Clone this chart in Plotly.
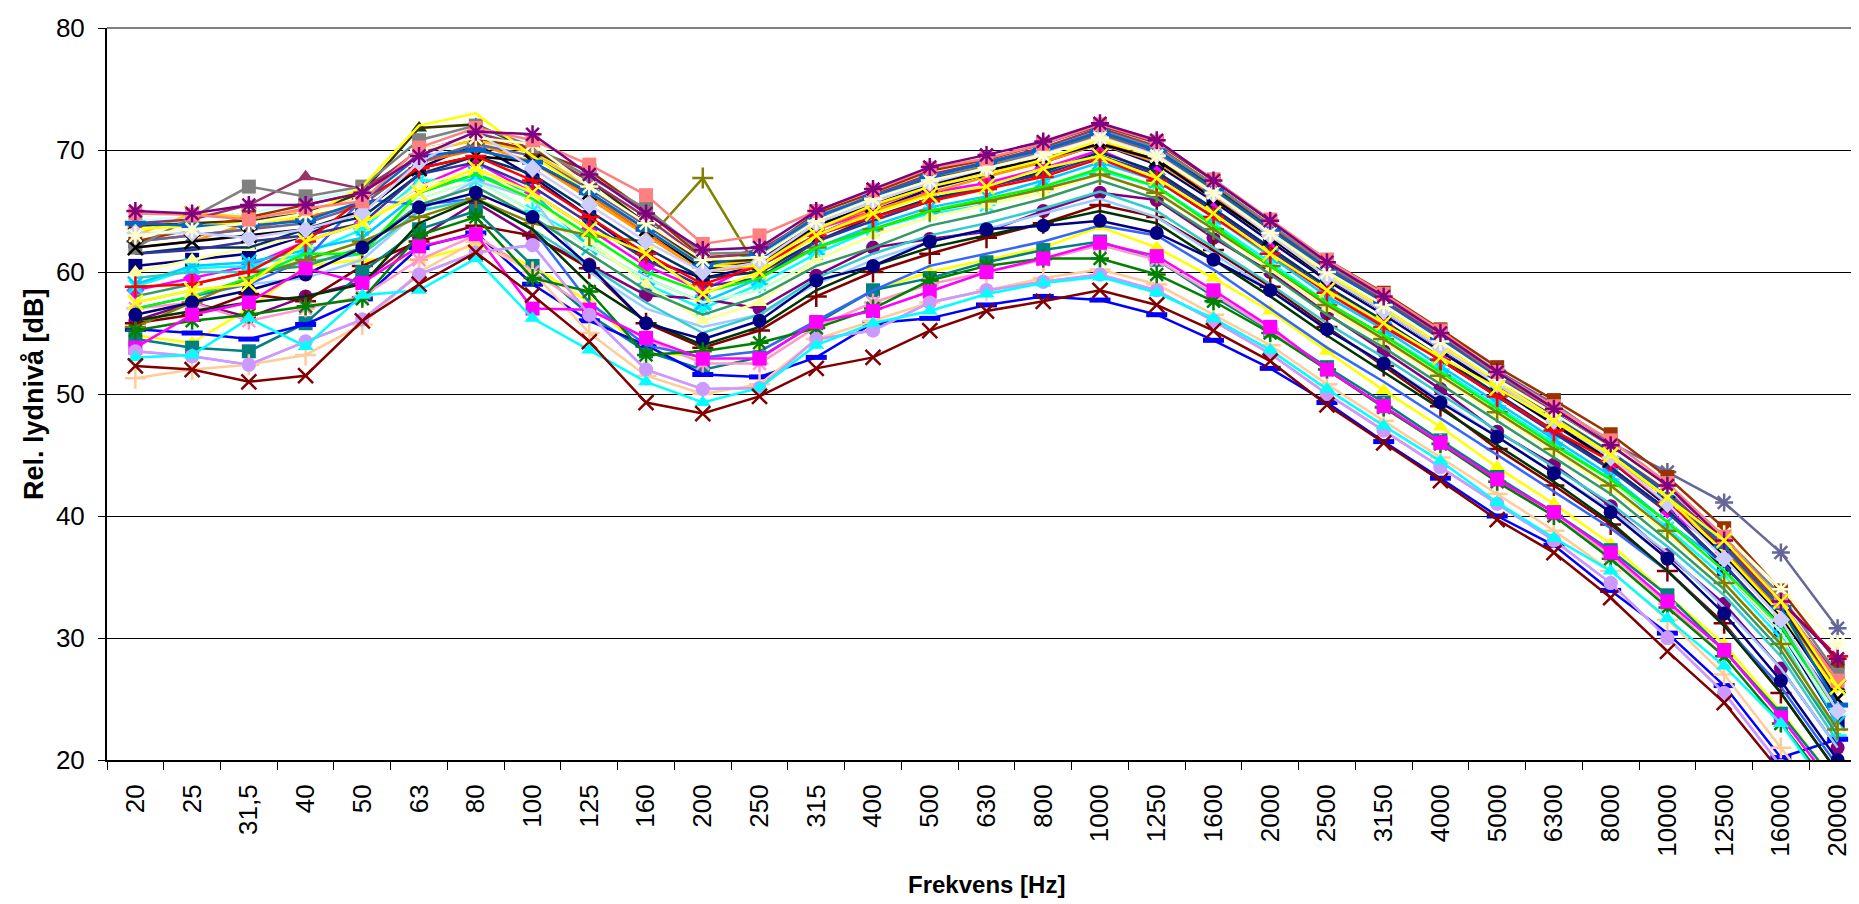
import plotly.graph_objects as go

# ---------------- data ----------------
frequencies = ["20", "25", "31,5", "40", "50", "63", "80", "100", "125", "160", "200", "250",
               "315", "400", "500", "630", "800", "1000", "1250", "1600", "2000", "2500",
               "3150", "4000", "5000", "6300", "8000", "10000", "12500", "16000", "20000"]

# top group
brown_sq = [62.5, 63.5, 64.5, 65.5, 66.5, 70.0, 71.0, 70.0, 68.3, 65.0, 61.2, 61.5, 64.8, 66.5, 68.3, 69.2, 70.5, 72.0, 70.6, 67.5, 64.2, 61.0, 58.3, 55.3, 52.2, 49.5, 46.7, 43.2, 39.0, 33.9, 28.0]
salmon_sq = [64.8, 64.7, 64.3, 65.2, 65.8, 70.2, 71.8, 70.8, 68.8, 66.3, 62.3, 63.0, 65.0, 66.7, 68.5, 69.3, 70.5, 72.1, 70.7, 67.6, 64.3, 61.0, 58.2, 55.2, 51.8, 49.0, 46.2, 42.7, 38.3, 33.0, 26.5]
plum_tri = [64.0, 64.3, 65.5, 67.8, 66.8, 69.7, 71.4, 70.2, 67.5, 64.5, 61.0, 61.8, 64.5, 66.3, 68.0, 69.0, 70.2, 71.8, 70.3, 67.2, 63.8, 60.5, 57.7, 54.7, 51.5, 48.5, 45.5, 42.0, 37.8, 32.8, 26.8]
gray_sq = [62.0, 64.5, 67.0, 66.2, 67.0, 70.8, 72.0, 70.3, 67.8, 65.2, 61.5, 61.6, 64.6, 66.2, 67.8, 68.7, 70.0, 71.6, 70.2, 67.2, 63.9, 60.6, 57.9, 54.9, 51.6, 48.8, 45.7, 42.3, 38.2, 33.5, 27.0]
purple_star = [65.0, 64.8, 65.5, 65.5, 66.5, 69.5, 71.5, 71.3, 68.0, 64.8, 61.8, 62.0, 65.0, 66.8, 68.6, 69.6, 70.7, 72.2, 70.8, 67.5, 64.2, 60.8, 58.0, 55.0, 51.8, 48.8, 45.8, 42.5, 38.0, 33.0, 28.3]
olive_dark_tri = [63.8, 64.0, 64.2, 64.8, 66.5, 71.8, 72.1, 70.0, 67.5, 64.0, 60.8, 61.0, 64.0, 66.0, 67.7, 68.8, 70.0, 71.5, 70.0, 67.0, 63.7, 60.3, 57.5, 54.5, 51.3, 48.3, 45.3, 41.8, 37.5, 32.5, 26.0]
yellow_top = [63.5, 63.8, 64.0, 64.5, 67.0, 72.0, 73.0, 69.5, 66.5, 63.5, 60.5, 60.5, 63.5, 65.5, 67.0, 68.0, 69.2, 70.8, 69.5, 66.5, 63.0, 59.8, 57.0, 54.0, 51.0, 48.0, 45.0, 41.5, 37.0, 32.0, 25.5]
turq_sq = [64.2, 64.5, 64.8, 65.8, 66.8, 71.0, 71.5, 70.5, 67.8, 65.0, 61.5, 62.0, 64.8, 66.6, 68.4, 69.3, 70.4, 71.9, 70.5, 67.6, 64.1, 60.9, 58.1, 55.1, 51.9, 49.1, 46.0, 42.5, 38.5, 33.3, 27.2]
skyblue_dash = [64.0, 63.8, 63.8, 64.2, 65.8, 69.5, 70.0, 69.0, 66.5, 63.5, 60.5, 61.5, 64.5, 66.2, 67.8, 69.0, 70.0, 71.5, 70.0, 66.8, 63.5, 60.3, 57.5, 54.5, 51.3, 48.3, 45.3, 41.8, 37.5, 32.5, 24.5]
lavender_dia = [63.2, 63.2, 62.8, 63.5, 64.8, 69.0, 71.5, 68.5, 65.5, 62.5, 60.0, 60.8, 64.0, 65.8, 67.3, 68.5, 69.7, 71.0, 69.6, 66.4, 63.0, 59.6, 56.8, 53.8, 50.8, 47.8, 44.8, 41.0, 36.5, 31.5, 24.0]
bluegray_star = [62.5, 63.0, 63.5, 64.0, 65.5, 69.0, 70.5, 69.5, 66.8, 63.8, 60.8, 61.2, 64.3, 66.0, 67.6, 68.7, 69.8, 71.3, 69.8, 66.8, 63.5, 60.4, 57.7, 54.9, 51.9, 49.2, 46.0, 43.6, 41.1, 37.0, 30.8]
cream_star = [63.0, 63.5, 64.0, 64.8, 66.0, 70.0, 71.0, 70.5, 67.0, 64.0, 61.0, 61.2, 64.2, 66.0, 67.5, 68.5, 69.6, 71.0, 69.5, 66.5, 63.2, 60.0, 57.3, 54.3, 51.2, 48.4, 45.5, 42.3, 38.5, 34.0, 29.5]
black_x = [62.0, 62.5, 63.0, 63.5, 65.0, 68.5, 69.5, 69.0, 66.5, 63.5, 60.2, 60.8, 63.8, 65.5, 67.2, 68.3, 69.3, 70.5, 69.2, 66.0, 62.8, 59.5, 56.8, 53.8, 50.6, 47.6, 44.6, 41.0, 36.8, 31.8, 25.0]
gold_x = [63.0, 64.8, 64.5, 65.0, 66.0, 69.8, 70.8, 69.8, 67.0, 64.0, 60.5, 61.0, 64.0, 65.8, 67.5, 68.5, 69.6, 71.2, 69.8, 66.7, 63.4, 60.2, 57.4, 54.4, 51.2, 48.2, 45.2, 41.8, 37.5, 32.5, 26.0]
orange_line = [62.5, 63.0, 63.5, 64.5, 65.5, 69.0, 70.0, 69.0, 66.3, 63.2, 60.3, 60.8, 63.5, 65.3, 67.0, 68.0, 69.2, 70.6, 69.2, 66.2, 63.0, 59.8, 57.0, 54.0, 51.0, 48.0, 45.0, 41.5, 37.2, 32.3, 25.8]

# middle group
navy_sq = [60.5, 61.0, 61.5, 63.0, 65.0, 68.5, 70.5, 67.8, 64.5, 61.1, 59.5, 60.5, 63.0, 65.0, 66.8, 68.0, 69.0, 70.5, 68.8, 65.8, 62.5, 59.3, 56.5, 53.5, 50.5, 47.5, 44.5, 40.8, 35.5, 30.5, 23.0]
magenta_dia = [58.5, 59.5, 60.5, 62.5, 64.0, 67.0, 69.0, 66.5, 63.5, 60.5, 58.5, 60.8, 63.5, 65.0, 66.5, 67.3, 68.5, 70.0, 68.0, 65.0, 61.8, 58.5, 55.7, 52.8, 49.8, 46.8, 44.0, 40.5, 37.0, 32.5, 26.5]
yellow_x = [57.5, 58.5, 59.0, 62.5, 64.0, 66.5, 68.5, 66.5, 63.5, 61.5, 58.2, 60.0, 63.0, 64.8, 66.3, 67.0, 68.5, 69.5, 67.7, 64.8, 61.5, 58.5, 55.8, 53.0, 50.5, 47.8, 45.0, 41.5, 38.0, 33.0, 26.0]
cyan_star = [58.8, 60.3, 60.5, 61.5, 63.5, 67.5, 67.5, 65.0, 62.5, 59.0, 57.0, 59.0, 61.5, 63.5, 64.8, 65.5, 67.0, 68.3, 67.0, 64.0, 60.8, 57.5, 54.8, 52.0, 49.0, 46.0, 43.0, 39.0, 35.0, 30.0, 22.0]
red_plus = [58.8, 59.0, 60.0, 62.5, 66.0, 68.5, 69.5, 67.5, 64.5, 61.5, 59.0, 60.5, 63.0, 64.5, 65.8, 66.8, 67.8, 69.3, 67.5, 64.5, 61.5, 58.3, 55.5, 52.8, 49.8, 47.0, 44.5, 41.0, 37.5, 33.0, 28.5]
lime_line = [57.0, 58.0, 59.5, 61.5, 61.5, 66.5, 68.0, 66.0, 63.0, 60.0, 58.3, 59.5, 62.0, 63.5, 65.0, 66.0, 67.0, 68.5, 67.0, 63.8, 60.5, 57.5, 54.8, 51.8, 48.8, 45.8, 43.0, 39.5, 35.5, 31.0, 24.0]
purple_circ = [56.0, 57.5, 56.3, 58.0, 59.2, 62.8, 65.7, 62.9, 60.6, 58.1, 57.8, 57.0, 59.7, 62.0, 62.7, 63.3, 65.0, 66.5, 65.9, 62.8, 60.0, 56.6, 53.5, 50.4, 46.9, 44.2, 40.8, 36.8, 32.8, 27.5, 21.0]
navy_circ = [56.5, 57.5, 58.5, 59.8, 62.0, 65.3, 66.5, 64.5, 60.5, 55.8, 54.5, 56.0, 59.3, 60.5, 62.5, 63.5, 63.8, 64.2, 63.2, 61.0, 58.5, 55.3, 52.5, 49.3, 46.5, 43.5, 40.3, 36.5, 32.0, 26.5, 20.0]
olive_plus = [55.5, 57.5, 59.5, 61.0, 62.5, 64.5, 66.0, 64.0, 63.0, 62.5, 67.7, 60.0, 62.0, 63.5, 65.0, 65.8, 66.8, 68.0, 66.5, 63.5, 60.5, 57.3, 54.5, 51.5, 48.5, 45.5, 42.5, 38.8, 34.5, 29.5, 22.5]
sky_x = [59.0, 60.5, 60.8, 61.8, 62.8, 66.5, 68.0, 66.5, 62.0, 59.5, 57.5, 59.5, 62.0, 63.8, 65.3, 66.2, 67.5, 69.0, 67.5, 64.5, 61.3, 58.0, 55.3, 52.3, 49.3, 46.3, 43.3, 39.5, 36.0, 31.0, 23.0]
lightgreen_line = [58.0, 59.0, 60.0, 61.0, 62.0, 66.0, 67.5, 65.0, 62.0, 59.5, 57.5, 58.5, 61.0, 63.0, 64.5, 65.5, 66.8, 68.0, 66.5, 63.5, 60.5, 57.3, 54.6, 51.8, 48.8, 45.8, 42.8, 39.5, 35.5, 30.5, 23.5]
orange2_line = [62.0, 62.5, 64.0, 64.5, 65.5, 69.0, 70.5, 69.0, 66.0, 63.0, 60.0, 60.5, 63.0, 65.0, 66.5, 67.8, 69.0, 70.5, 69.0, 66.0, 62.8, 59.5, 56.8, 53.8, 50.8, 47.8, 44.8, 41.5, 37.0, 32.0, 25.5]
paleblue_line = [57.5, 58.5, 59.0, 59.5, 61.0, 65.0, 67.5, 66.0, 60.0, 57.0, 55.5, 56.5, 59.0, 61.0, 62.5, 63.5, 64.8, 66.0, 64.5, 61.5, 58.5, 55.3, 52.5, 49.5, 46.5, 43.5, 40.5, 37.0, 32.5, 27.5, 21.0]
aqua_line = [59.5, 60.0, 60.0, 60.8, 61.5, 65.0, 66.0, 63.5, 60.5, 57.5, 55.0, 56.5, 59.5, 61.5, 63.0, 64.0, 65.2, 66.6, 65.0, 62.0, 59.0, 55.8, 53.0, 50.0, 47.0, 44.0, 41.0, 37.5, 33.5, 28.5, 21.5]
paleyellow_tri = [60.0, 61.0, 62.0, 63.0, 64.0, 67.0, 68.5, 66.0, 62.5, 59.0, 56.0, 57.5, 61.0, 63.0, 64.5, 65.5, 66.5, 68.0, 66.5, 63.5, 60.2, 57.0, 54.3, 51.3, 48.3, 45.3, 42.3, 38.5, 34.5, 29.5, 22.5]
maroon_plus = [55.8, 56.5, 58.2, 57.6, 60.5, 62.5, 63.8, 63.0, 60.3, 55.8, 53.8, 55.2, 58.0, 60.0, 61.5, 62.8, 64.0, 65.5, 64.5, 61.8, 58.8, 55.5, 52.3, 49.0, 45.5, 42.5, 39.3, 35.5, 31.2, 25.5, 19.0]
blue2_line = [57.0, 58.0, 59.0, 61.0, 66.0, 65.5, 66.0, 63.5, 57.5, 54.0, 53.0, 53.5, 56.0, 58.5, 60.5, 61.5, 62.5, 63.8, 63.0, 60.2, 57.0, 53.8, 51.0, 48.0, 45.0, 42.0, 39.0, 35.5, 31.0, 26.0, 19.5]
darkteal_line = [61.5, 62.0, 62.0, 63.5, 64.5, 68.0, 69.5, 68.0, 65.0, 62.0, 59.5, 60.0, 62.5, 64.5, 66.0, 67.0, 68.2, 69.8, 68.2, 65.2, 62.0, 58.8, 56.0, 53.0, 50.0, 47.0, 44.0, 40.5, 36.0, 31.0, 24.0]
seagreen_line = [58.0, 59.0, 60.0, 60.5, 62.0, 65.5, 67.0, 64.5, 61.5, 58.5, 56.5, 58.0, 60.5, 62.0, 63.8, 64.8, 66.0, 67.5, 66.0, 63.0, 59.8, 56.5, 53.8, 50.8, 47.8, 44.8, 41.8, 38.0, 34.0, 29.0, 22.0]
indigo_line = [61.5, 61.8, 62.5, 63.0, 64.0, 68.0, 69.0, 67.0, 64.0, 61.0, 58.8, 59.5, 62.5, 64.2, 65.8, 67.0, 68.0, 69.5, 68.0, 65.0, 61.8, 58.5, 55.8, 52.8, 49.8, 46.8, 43.8, 40.3, 36.0, 31.0, 24.5]

# low group
maroon_x = [52.3, 52.0, 51.0, 51.5, 56.0, 59.0, 61.6, 58.1, 54.3, 49.3, 48.4, 49.8, 52.1, 53.0, 55.2, 56.8, 57.6, 58.5, 57.3, 55.2, 52.7, 49.1, 46.0, 42.9, 39.7, 37.0, 33.3, 28.9, 24.7, 19.0, 13.0]
blue_dash = [55.3, 55.0, 54.5, 55.7, 57.8, 62.0, 63.2, 59.0, 56.0, 54.0, 51.6, 51.4, 53.0, 55.8, 56.2, 57.3, 58.0, 57.7, 56.5, 54.4, 52.1, 49.3, 46.1, 43.1, 40.0, 37.6, 33.9, 30.4, 26.1, 20.2, 21.7]
cyan_tri = [53.0, 53.2, 56.2, 53.9, 58.1, 58.5, 61.1, 56.2, 53.6, 51.0, 49.3, 50.5, 54.0, 55.8, 56.8, 58.2, 59.1, 59.6, 58.3, 56.2, 53.6, 50.4, 47.4, 44.5, 41.1, 38.2, 35.5, 31.6, 27.7, 23.0, 16.5]
lavender_circ = [53.5, 53.1, 52.4, 54.3, 56.1, 59.8, 61.6, 62.2, 56.5, 52.0, 50.4, 50.5, 54.5, 55.2, 57.5, 58.5, 59.2, 59.8, 58.5, 56.0, 53.3, 50.0, 47.0, 44.0, 41.0, 38.0, 34.5, 30.0, 25.5, 19.5, 13.0]
peach_plus = [51.3, 52.0, 52.4, 53.2, 55.7, 60.0, 62.5, 60.0, 55.0, 51.5, 50.0, 50.8, 54.5, 56.0, 57.5, 58.5, 59.5, 60.2, 59.0, 56.5, 54.0, 50.8, 47.8, 44.8, 41.8, 38.8, 35.5, 31.5, 27.0, 21.0, 15.0]
magenta_sq = [53.8, 56.5, 57.5, 60.3, 59.1, 62.1, 63.1, 57.0, 56.9, 54.6, 52.9, 52.9, 55.9, 56.8, 58.4, 60.0, 61.1, 62.4, 61.3, 58.5, 55.5, 52.0, 49.0, 46.0, 43.0, 40.3, 37.0, 33.0, 29.0, 23.5, 17.5]
green_star = [55.2, 56.0, 56.5, 57.2, 57.8, 63.0, 64.5, 59.5, 58.4, 53.2, 53.5, 54.2, 55.4, 57.0, 59.3, 60.5, 61.1, 61.1, 59.8, 57.6, 55.0, 52.0, 48.9, 45.9, 42.8, 40.0, 36.5, 32.5, 28.5, 23.0, 17.0]
teal_sq = [54.5, 53.8, 53.5, 55.8, 60.0, 63.5, 65.0, 60.5, 56.5, 53.5, 52.0, 53.0, 55.8, 58.5, 59.5, 60.8, 61.8, 62.5, 61.0, 58.0, 55.2, 52.2, 49.3, 46.2, 43.2, 40.3, 37.2, 33.5, 29.0, 23.8, 18.0]
yellow_tri = [54.8, 54.2, 57.0, 60.5, 61.0, 61.0, 62.2, 60.5, 57.5, 53.5, 53.0, 53.5, 56.0, 58.5, 60.0, 61.0, 62.0, 63.7, 62.0, 59.5, 56.8, 53.5, 50.3, 47.3, 44.0, 41.0, 37.7, 33.5, 29.5, 24.0, 18.0]
rose_star = [57.0, 57.5, 56.0, 57.0, 58.0, 61.0, 63.0, 60.0, 57.0, 54.5, 52.5, 52.5, 55.5, 57.5, 59.0, 60.0, 61.0, 62.2, 61.0, 58.2, 55.3, 52.0, 49.0, 46.0, 42.8, 40.0, 36.8, 32.8, 28.5, 23.0, 17.0]
darkgreen_line = [56.0, 56.8, 57.5, 58.0, 59.0, 64.0, 66.0, 63.5, 59.0, 56.0, 54.0, 55.5, 58.5, 60.5, 62.0, 63.0, 64.0, 65.0, 64.0, 61.0, 58.0, 54.8, 51.8, 48.8, 45.8, 42.8, 39.5, 35.5, 31.0, 25.5, 19.0]

# ---------------- styles ----------------
series = [
    (navy_sq, "#000080", "square"),
    (magenta_dia, "#FF00FF", "diamond"),
    (yellow_tri, "#FFFF00", "triangle-up"),
    (cyan_star, "#00FFFF", "asterisk-open"),
    (purple_circ, "#800080", "circle"),
    (maroon_plus, "#800000", "cross-thin-open"),
    (teal_sq, "#008080", "square"),
    (blue_dash, "#0000FF", "line-ew-open"),
    (sky_x, "#00CCFF", "x-thin-open"),
    (turq_sq, "#CCFFFF", "square"),
    (lightgreen_line, "#CCFFCC", None),
    (paleyellow_tri, "#FFFF99", "triangle-up"),
    (paleblue_line, "#99CCFF", None),
    (rose_star, "#FF99CC", "asterisk-open"),
    (lavender_circ, "#CC99FF", "circle"),
    (peach_plus, "#FFCC99", "cross-thin-open"),
    (blue2_line, "#3366FF", None),
    (aqua_line, "#33CCCC", None),
    (olive_plus, "#808000", "cross-thin-open"),
    (gold_x, "#FFCC00", "x-thin-open"),
    (orange2_line, "#FF9900", None),
    (orange_line, "#FF6600", None),
    (bluegray_star, "#666699", "asterisk-open"),
    (darkteal_line, "#003366", None),
    (seagreen_line, "#339966", None),
    (darkgreen_line, "#003300", None),
    (olive_dark_tri, "#333300", "triangle-up"),
    (brown_sq, "#993300", "square"),
    (plum_tri, "#993366", "triangle-up"),
    (indigo_line, "#333399", None),
    (gray_sq, "#808080", "square"),
    (black_x, "#000000", "x-thin-open"),
    (red_plus, "#FF0000", "cross-thin-open"),
    (lime_line, "#00FF00", None),
    (yellow_top, "#FFFF00", None),
    (skyblue_dash, "#0066CC", "line-ew-open"),
    (lavender_dia, "#CCCCFF", "diamond"),
    (cream_star, "#FFFFCC", "asterisk-open"),
    (salmon_sq, "#FF8080", "square"),
    (purple_star, "#800080", "asterisk-open"),
    (navy_circ, "#000080", "circle"),
    (yellow_x, "#FFFF00", "x-thin-open"),
    (green_star, "#008000", "asterisk-open"),
    (magenta_sq, "#FF00FF", "square"),
    (lavender_circ, "#CC99FF", "circle"),
    (cyan_tri, "#00FFFF", "triangle-up"),
    (maroon_x, "#800000", "x-thin-open"),
]

fig = go.Figure()
for vals, color, sym in series:
    if sym is None:
        marker = dict(size=1, color=color, opacity=0)
        mode = "lines"
    elif sym.endswith("-open"):
        lw = 5 if sym == "line-ew-open" else 2.5
        marker = dict(symbol=sym, size=15, color=color, line=dict(color=color, width=lw))
        mode = "lines+markers"
    else:
        marker = dict(symbol=sym, size=14, color=color, line=dict(width=0))
        mode = "lines+markers"
    fig.add_trace(go.Scatter(x=frequencies, y=vals, mode=mode, line=dict(color=color, width=2.5),
                             marker=marker, showlegend=False, hoverinfo="skip"))

font_family = "Arial, Liberation Sans, sans-serif"

fig.update_layout(
    width=1859, height=904, autosize=False,
    margin=dict(l=99, r=1, t=20, b=152),
    plot_bgcolor="white", paper_bgcolor="white",
    showlegend=False,
    font=dict(family=font_family, color="black"),
    shapes=[
        dict(type="line", xref="paper", yref="paper", x0=0, x1=1, y0=1, y1=1,
             line=dict(color="#808080", width=2), layer="below"),
        dict(type="line", xref="paper", yref="paper", x0=1, x1=1, y0=0, y1=1,
             line=dict(color="#808080", width=2), layer="below"),
    ],
    annotations=[
        dict(text="<b>Frekvens [Hz]</b>", xref="paper", yref="paper", x=0.5, y=-0.17,
             xanchor="center", yanchor="middle", showarrow=False,
             font=dict(size=24, family=font_family, color="black")),
        dict(text="<b>Rel. lydnivå [dB]</b>", xref="paper", yref="paper", x=-0.0415, y=0.5,
             xanchor="center", yanchor="middle", showarrow=False, textangle=-90,
             font=dict(size=27, family=font_family, color="black")),
    ],
)

fig.update_xaxes(
    type="category", categoryorder="array", categoryarray=frequencies,
    range=[-0.5, len(frequencies) - 0.5],
    tickangle=-90, tickfont=dict(size=26, family=font_family, color="black"),
    ticks="outside", tickson="boundaries", ticklen=8, tickcolor="black", tickwidth=1,
    showline=True, linecolor="black", linewidth=2, showgrid=False, zeroline=False,
    ticklabelstandoff=12,
)
fig.update_yaxes(
    range=[20, 80], dtick=10, tick0=20,
    tickfont=dict(size=26, family=font_family, color="black"),
    ticks="outside", ticklen=7, tickcolor="black", tickwidth=1,
    showline=True, linecolor="black", linewidth=2,
    showgrid=True, gridcolor="black", gridwidth=1, zeroline=False,
    ticklabelstandoff=8,
)

fig.write_html("out.html")
